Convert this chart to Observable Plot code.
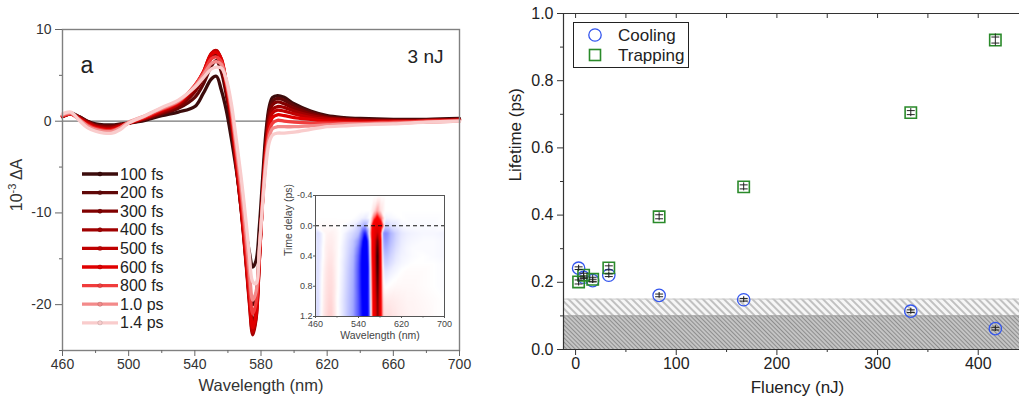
<!DOCTYPE html>
<html><head><meta charset="utf-8">
<script src="https://cdn.jsdelivr.net/npm/d3@7"></script>
<script src="https://cdn.jsdelivr.net/npm/@observablehq/plot@0.6"></script>
<style>
body{margin:0;background:#fff;}
#fig{position:relative;width:1019px;height:405px;overflow:hidden;background:#fff;font-family:"Liberation Sans",Arial,sans-serif;}
#fig > svg{position:absolute;overflow:visible;}
</style></head><body><div id="fig"></div>
<script>
// ---------- Panel a: transient spectra ----------
const wavelengths = [460,465,470,475,480,485,490,495,500,510,520,530,540,545,550,553,556,559,562,565,568,571,573,575,577,579,581,583,585,587,590,594,600,610,620,630,640,660,680,700];
const delays = ["100 fs","200 fs","300 fs","400 fs","500 fs","600 fs","800 fs","1.0 ps","1.4 ps"];
const delayPs = [0.1,0.2,0.3,0.4,0.5,0.6,0.8,1.0,1.4];
const delayColors = ["#3c0c0c","#600808","#800000","#a00000","#bf0000","#e00000","#f03c3c","#f38a8a","#f9cccc"];
const dA_100fs = [0.6,0.9,0.5,0.0,-0.3,-0.4,-0.4,-0.3,-0.2,0.1,0.6,1.0,1.6,3.0,4.6,4.9,3.4,1.2,-1.8,-5.2,-8.8,-12.2,-14.3,-15.9,-15.2,-11.5,-6.2,-1.2,1.6,2.6,2.8,2.6,1.9,1.1,0.6,0.4,0.3,0.2,0.2,0.3];
const dA_200fs = [0.5,0.8,0.5,0.0,-0.4,-0.5,-0.5,-0.4,-0.2,0.2,0.8,1.4,2.6,4.0,6.0,6.6,5.4,2.9,-0.4,-4.8,-9.5,-14.5,-17.8,-20.0,-19.0,-14.0,-7.5,-2.0,1.2,2.2,2.5,2.3,1.7,1.0,0.5,0.3,0.2,0.1,0.1,0.2];
const dA_300fs = [0.5,0.8,0.4,-0.1,-0.5,-0.6,-0.6,-0.4,-0.2,0.3,0.9,1.6,3.2,4.7,6.9,7.3,6.2,3.4,-0.1,-4.8,-9.6,-15.3,-19.2,-22.0,-20.6,-14.8,-7.8,-2.4,0.7,1.8,2.1,1.9,1.4,0.8,0.4,0.2,0.1,0.1,0.1,0.2];
const dA_400fs = [0.5,0.8,0.4,-0.1,-0.5,-0.7,-0.7,-0.5,-0.2,0.3,1.0,1.8,3.6,5.1,7.3,7.7,6.6,3.7,0.2,-4.6,-9.6,-15.6,-19.9,-23.3,-21.6,-15.2,-8.2,-2.8,0.2,1.3,1.6,1.5,1.1,0.6,0.3,0.2,0.1,0.0,0.1,0.2];
const dA_500fs = [0.5,0.8,0.3,-0.2,-0.6,-0.8,-0.8,-0.5,-0.2,0.4,1.1,1.9,3.8,5.3,7.4,7.7,6.8,4.0,0.5,-4.3,-9.3,-15.3,-19.6,-23.0,-21.4,-15.2,-8.4,-3.1,-0.2,0.9,1.2,1.1,0.8,0.4,0.2,0.1,0.0,0.0,0.0,0.1];
const dA_600fs = [0.6,0.8,0.3,-0.3,-0.7,-0.9,-0.9,-0.6,-0.2,0.4,1.2,2.0,3.9,5.3,7.3,7.5,6.8,4.2,0.8,-3.9,-8.9,-14.8,-19.1,-22.5,-21.0,-15.0,-8.5,-3.4,-0.6,0.4,0.7,0.6,0.4,0.2,0.0,-0.1,-0.1,-0.1,0.0,0.1];
const dA_800fs = [0.6,0.8,0.2,-0.4,-0.8,-1.0,-1.0,-0.7,-0.2,0.5,1.3,2.1,3.9,5.2,6.8,7.0,6.5,4.3,1.1,-3.3,-8.0,-13.6,-17.7,-21.0,-19.8,-14.5,-8.6,-3.8,-1.1,-0.2,0.1,0.0,-0.1,-0.2,-0.2,-0.2,-0.2,-0.1,0.0,0.1];
const dA_1p0ps = [0.7,0.9,0.2,-0.5,-0.9,-1.1,-1.1,-0.7,-0.1,0.6,1.4,2.2,3.8,5.0,6.3,6.5,6.2,4.4,1.5,-2.7,-7.1,-12.4,-16.3,-19.5,-18.6,-14.0,-8.7,-4.2,-1.7,-0.8,-0.6,-0.6,-0.6,-0.5,-0.4,-0.3,-0.3,-0.2,-0.1,0.0];
const dA_1p4ps = [0.8,1.0,0.1,-0.7,-1.1,-1.3,-1.3,-0.9,-0.2,0.6,1.5,2.3,3.7,4.7,5.7,5.9,5.8,4.6,2.0,-1.9,-6.1,-11.0,-14.6,-17.5,-17.7,-13.8,-9.0,-4.8,-2.3,-1.5,-1.3,-1.3,-1.2,-0.9,-0.6,-0.5,-0.4,-0.3,-0.1,0.0];
const spectraValues = [dA_100fs,dA_200fs,dA_300fs,dA_400fs,dA_500fs,dA_600fs,dA_800fs,dA_1p0ps,dA_1p4ps];
const xTicksA = [460,500,540,580,620,660,700];
const xMinorA = [480,520,560,600,640,680];
const yTicksA = [-20,-10,0,10];
const yMinorA = [-25,-15,-5,5];

// inset map: early delays (before the plotted spectra)
const earlyWavelengths = [460,500,530,545,553,562,568,575,582,590,600,620,700];
const earlyDelays = [-0.4,-0.2,-0.1,0.0];
const early_m04 = [0,0,0,0,0,0,0,0,0,0,0,0,0];
const early_m02 = [0,0,0,0,0,0,-0.8,-2,-0.8,0,0,0,0];
const early_m01 = [0,0,0,0.3,0.5,0,-3,-6,-3,0.3,0.2,0,0];
const early_000 = [0,-0.1,0.4,1.5,2.2,-1,-8,-12,-7,1.2,0.8,0.2,0];
const earlyValues = [early_m04,early_m02,early_m01,early_000];
const insetXTicks = [460,540,620,700];
const insetXMinor = [500,580,660];
const insetYTicks = [-0.4,0,0.4,0.8,1.2];

// ---------- Panel b: lifetimes ----------
const fluency = [3,8,17,33,83,167,333,417];
const coolingLifetime = [0.242,0.215,0.205,0.221,0.161,0.148,0.114,0.062];
const coolingError = [0.004,0.004,0.004,0.004,0.004,0.004,0.004,0.004];
const trappingLifetime = [0.201,0.221,0.209,0.243,0.395,0.484,0.705,0.921];
const trappingError = [0.006,0.006,0.006,0.006,0.006,0.006,0.006,0.009];
const hatchBands = [0.15,0.10];
const xTicksB = [0,100,200,300,400];
const xMinorB = [50,150,250,350];
const yTicksB = [0,0.2,0.4,0.6,0.8,1.0];
const yMinorB = [0.1,0.3,0.5,0.7,0.9];

const FONT = '"Liberation Sans", Arial, sans-serif';
const fig = document.getElementById("fig");

// ===== Panel a =====
const spectra = spectraValues.flatMap((vals,i)=>vals.map((v,j)=>({w:wavelengths[j],v,s:delays[i]})));
const left = Plot.plot({
  width:480,height:405,marginLeft:62,marginRight:21,marginTop:29,marginBottom:55,
  style:{fontFamily:FONT,fontSize:"14px",color:"#333",background:"transparent",overflow:"visible"},
  x:{domain:[460,700]},
  y:{domain:[-25,10]},
  color:{domain:delays,range:delayColors},
  marks:[
    Plot.ruleY([0],{stroke:"#777",strokeWidth:1.3}),
    Plot.line(spectra,{x:"w",y:"v",z:"s",stroke:"s",strokeWidth:3.3,curve:"catmull-rom"}),
    Plot.frame({stroke:"#808080",strokeWidth:1.4}),
    Plot.axisX({ticks:xTicksA,tickSize:6,tickPadding:3,stroke:"#666",fill:"#333",fontSize:14,label:null}),
    Plot.axisX({ticks:xMinorA,tickSize:3,tickFormat:()=>"",stroke:"#666",label:null}),
    Plot.axisY({ticks:yTicksA,tickSize:7,tickPadding:4,stroke:"#666",fill:"#333",fontSize:14,label:null,tickFormat:d=>String(d)}),
    Plot.axisY({ticks:yMinorA,tickSize:3,tickFormat:()=>"",stroke:"#666",label:null}),
    Plot.text(["Wavelength (nm)"],{text:d=>d,frameAnchor:"bottom",dy:40,fontSize:16.5,fill:"#333"}),
    Plot.text(["a"],{text:d=>d,frameAnchor:"top-left",dx:18,dy:27,fontSize:23,fill:"#222"}),
    Plot.text(["3 nJ"],{text:d=>d,frameAnchor:"top-right",dx:-16,dy:20,fontSize:19,fill:"#222",textAnchor:"end"})
  ]
});
left.style.left="0px"; left.style.top="0px";
fig.appendChild(left);
{
  const s = d3.select(left);
  const t = s.append("text").attr("transform","translate(22,185) rotate(-90)")
    .attr("text-anchor","middle").attr("font-size",16).attr("fill","#333").attr("font-family",FONT);
  t.append("tspan").text("10");
  t.append("tspan").attr("dy",-6).attr("font-size",11).text("-3");
  t.append("tspan").attr("dy",6).text(" \u0394A");
  const g = s.append("g").attr("font-family",FONT).attr("text-anchor","start");
  delays.forEach((name,i)=>{
    const y = 174 + i*18.6;
    g.append("line").attr("x1",82).attr("x2",118).attr("y1",y).attr("y2",y)
      .attr("stroke",delayColors[i]).attr("stroke-width",3.3);
    g.append("circle").attr("cx",100).attr("cy",y).attr("r",2.2).attr("fill",delayColors[i]).attr("stroke","rgba(0,0,0,0.25)").attr("stroke-width",0.5);
    g.append("text").attr("x",120).attr("y",y).attr("dy","0.35em").attr("font-size",16).attr("fill","#222").attr("text-anchor","start").text(name);
  });
}

// ===== Inset =====
const heat = [];
delayPs.forEach((t,i)=>spectraValues[i].forEach((v,j)=>heat.push({w:wavelengths[j],t,v})));
earlyDelays.forEach((t,i)=>earlyValues[i].forEach((v,j)=>heat.push({w:earlyWavelengths[j],t,v})));
const inset = Plot.plot({
  width:173,height:155,marginLeft:38,marginRight:6,marginTop:6,marginBottom:28,
  style:{fontFamily:FONT,fontSize:"9px",color:"#444",background:"transparent",overflow:"visible"},
  x:{domain:[460,700]},
  y:{domain:[-0.4,1.2],reverse:true},
  color:{type:"linear",domain:[-24,-15,-5,-1,0,2,5.5],range:["#1a0000","#d80000","#ff0000","#ffdcdc","#ffffff","#aab0ff","#0000ff"],clamp:true},
  marks:[
    Plot.raster(heat,{x:"w",y:"t",fill:"v",interpolate:"barycentric"}),
    Plot.ruleY([0],{stroke:"#111",strokeDasharray:"4,3",strokeWidth:1}),
    Plot.frame({stroke:"#555",strokeWidth:1}),
    Plot.axisX({ticks:insetXTicks,tickSize:2,tickPadding:2,fontSize:9,fill:"#444",stroke:"#555",label:null}),
    Plot.axisX({ticks:insetXMinor,tickSize:1.5,tickFormat:()=>"",stroke:"#555",label:null}),
    Plot.axisY({ticks:insetYTicks,tickSize:2,tickPadding:1,fontSize:9,fill:"#444",stroke:"#555",label:null,tickFormat:d=>d.toFixed(1)}),
    Plot.text(["Wavelength (nm)"],{text:d=>d,frameAnchor:"bottom",dy:22,fontSize:10.5,fill:"#444"}),
    Plot.text(["Time delay (ps)"],{text:d=>d,frameAnchor:"left",dx:-27,rotate:-90,fontSize:10.5,fill:"#444"})
  ]
});
inset.style.left="277px"; inset.style.top="189px";
fig.appendChild(inset);

// ===== Panel b =====
const cooling = fluency.map((f,i)=>({f,v:coolingLifetime[i],e:coolingError[i]}));
const trapping = fluency.map((f,i)=>({f,v:trappingLifetime[i],e:trappingError[i]}));
const capSymbol = {draw(ctx,size){const w=Math.sqrt(size)/2;ctx.moveTo(-w,0);ctx.lineTo(w,0);}};
const right = Plot.plot({
  width:539,height:405,marginLeft:83,marginRight:0,marginTop:13,marginBottom:56,
  style:{fontFamily:FONT,fontSize:"16px",color:"#222",background:"transparent",overflow:"visible"},
  x:{domain:[-12,441]},
  y:{domain:[0,1]},
  marks:[
    Plot.rect([hatchBands[0]],{y1:0,y2:d=>d,fill:"url(#hatchLight)"}),
    Plot.rect([hatchBands[1]],{y1:0,y2:d=>d,fill:"url(#hatchDark)"}),
    Plot.ruleY([hatchBands[0]],{stroke:"#cccccc",strokeWidth:1}),
    Plot.ruleY([hatchBands[1]],{stroke:"#a0a0a0",strokeWidth:1}),
    Plot.dot(cooling,{x:"f",y:"v",r:6.2,stroke:"#3355ee",fill:"none",strokeWidth:1.3}),
    Plot.dot(trapping,{x:"f",y:"v",symbol:"square",r:6.4,stroke:"#2a8a2a",fill:"none",strokeWidth:1.6}),
    Plot.ruleX(cooling,{x:"f",y1:d=>d.v-2.2*d.e,y2:d=>d.v+2.2*d.e,stroke:"#222",strokeWidth:1.1}),
    Plot.ruleX(trapping,{x:"f",y1:d=>d.v-2*d.e,y2:d=>d.v+2*d.e,stroke:"#222",strokeWidth:1}),
    Plot.dot(cooling.flatMap(d=>[{f:d.f,y:d.v-d.e},{f:d.f,y:d.v+d.e}]),{x:"f",y:"y",symbol:capSymbol,r:4.5,stroke:"#222",strokeWidth:1}),
    Plot.dot(trapping.flatMap(d=>[{f:d.f,y:d.v-d.e},{f:d.f,y:d.v+d.e}]),{x:"f",y:"y",symbol:capSymbol,r:4.5,stroke:"#222",strokeWidth:1}),
    Plot.frame({anchor:"left",stroke:"#333",strokeWidth:1.2}),
    Plot.frame({anchor:"bottom",stroke:"#333",strokeWidth:1.2}),
    Plot.frame({anchor:"top",stroke:"#333",strokeWidth:1.2}),
    Plot.axisX({ticks:xTicksB,tickSize:6,tickPadding:2,fontSize:16,fill:"#222",stroke:"#333",label:null}),
    Plot.axisX({ticks:xMinorB,tickSize:3,tickFormat:()=>"",stroke:"#333",label:null}),
    Plot.axisX({anchor:"top",ticks:xTicksB.concat(xMinorB),tickSize:-4,tickFormat:()=>"",stroke:"#333",label:null}),
    Plot.axisY({ticks:yTicksB,tickSize:6,tickPadding:4,fontSize:16,fill:"#222",stroke:"#333",label:null,tickFormat:d=>d.toFixed(1)}),
    Plot.axisY({ticks:yMinorB,tickSize:3,tickFormat:()=>"",stroke:"#333",label:null}),
    Plot.text(["Fluency (nJ)"],{text:d=>d,frameAnchor:"bottom",dy:43,dx:6,fontSize:17,fill:"#222"}),
    Plot.text(["Lifetime (ps)"],{text:d=>d,frameAnchor:"left",dx:-48,rotate:-90,fontSize:17,fill:"#222"})
  ]
});
right.style.left="480px"; right.style.top="0px";
fig.appendChild(right);
{
  const s = d3.select(right);
  const defs = s.insert("defs",":first-child");
  const p1 = defs.append("pattern").attr("id","hatchLight").attr("patternUnits","userSpaceOnUse")
    .attr("width",5).attr("height",5).attr("patternTransform","rotate(-45)");
  p1.append("rect").attr("width",5).attr("height",5).attr("fill","#f6f6f6");
  p1.append("line").attr("x1",1).attr("x2",1).attr("y1",0).attr("y2",5).attr("stroke","#b4b4b4").attr("stroke-width",1.6);
  const p2 = defs.append("pattern").attr("id","hatchDark").attr("patternUnits","userSpaceOnUse")
    .attr("width",3).attr("height",3).attr("patternTransform","rotate(-45)");
  p2.append("rect").attr("width",3).attr("height",3).attr("fill","#c4c4c4");
  p2.append("line").attr("x1",0.5).attr("x2",0.5).attr("y1",0).attr("y2",3).attr("stroke","#8e8e8e").attr("stroke-width",1);
  // legend box
  const g = s.append("g").attr("font-family",FONT).attr("text-anchor","start");
  g.append("rect").attr("x",93.5).attr("y",22.5).attr("width",115).attr("height",45).attr("fill","#fff").attr("stroke","#222").attr("stroke-width",1);
  g.append("circle").attr("cx",115).attr("cy",35).attr("r",6.2).attr("fill","none").attr("stroke","#3355ee").attr("stroke-width",1.3);
  g.append("rect").attr("x",109.5).attr("y",49.5).attr("width",11).attr("height",11).attr("fill","none").attr("stroke","#2a8a2a").attr("stroke-width",1.6);
  g.append("text").attr("x",138).attr("y",35).attr("dy","0.35em").attr("font-size",17).attr("fill","#222").attr("text-anchor","start").text("Cooling");
  g.append("text").attr("x",138).attr("y",55).attr("dy","0.35em").attr("font-size",17).attr("fill","#222").attr("text-anchor","start").text("Trapping");
}
</script></body></html>
